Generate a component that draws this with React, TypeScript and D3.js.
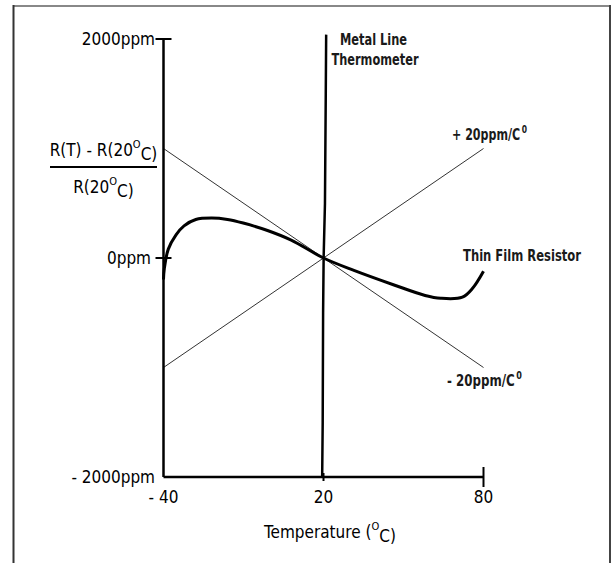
import * as d3 from "d3";

// temperature (°C) / deviation (ppm)
const thinFilm: [number, number][] = [
  [-40, -196], [-39.7, -98], [-38.2, 81], [-35.3, 212], [-32.3, 294],
  [-27.9, 352], [-21.9, 365], [-16.0, 352], [-10.1, 319], [-1.0, 251],
  [7.9, 163], [20, 0], [31.4, -113], [46.2, -244], [58.1, -342],
  [64.0, -368], [72.1, -358], [75.9, -277], [80, -121],
];
const metalLine: [number, number][] = [
  [21.0, 2040], [20.85, 1500], [20.55, 500], [20.05, 0],
  [19.85, -500], [19.7, -1500], [19.5, -2010],
];
const plusLine: [number, number][] = [[-40, -1000], [80, 1000]];
const minusLine: [number, number][] = [[-40, 1000], [80, -1000]];

const xTicks = [-40, 20, 80];
const xTickLabels = ["- 40", "20", "80"];
const yTicks = [2000, 0, -2000];
const yTickLabels = ["2000ppm", "0ppm", "- 2000ppm"];

const W = 615;
const H = 563;
const cond = "'DejaVu Sans Condensed', 'Liberation Sans', sans-serif";

function App() {
  const x = d3.scaleLinear().domain([-40, 80]).range([163.5, 483.5]);
  const y = d3.scaleLinear().domain([-2000, 2000]).range([477, 39]);

  const straight = d3.line<[number, number]>()
    .x(d => x(d[0]))
    .y(d => y(d[1]));
  const smooth = d3.line<[number, number]>()
    .x(d => x(d[0]))
    .y(d => y(d[1]))
    .curve(d3.curveCatmullRom.alpha(0.5));

  return (
    <svg width={W} height={H} style={{position: "absolute", left: 0, top: 0, background: "#fff"}}>
      {/* frame */}
      <line x1={13.5} y1={6} x2={610} y2={6} stroke="#888" strokeWidth={2} />
      <line x1={13.5} y1={5} x2={13.5} y2={H} stroke="#333" strokeWidth={2} />
      <line x1={610} y1={5} x2={610} y2={H} stroke="#444" strokeWidth={2} />

      {/* slope lines */}
      <path d={straight(plusLine) ?? ""} fill="none" stroke="#333" strokeWidth={1} />
      <path d={straight(minusLine) ?? ""} fill="none" stroke="#333" strokeWidth={1} />

      {/* axes */}
      <line x1={x(-40)} y1={y(2000)} x2={x(-40)} y2={y(-2000)} stroke="#000" strokeWidth={2.5} />
      <line x1={x(-40)} y1={y(-2000)} x2={x(80)} y2={y(-2000)} stroke="#000" strokeWidth={2.5} />
      {yTicks.slice(0, 2).map(t => (
        <line key={t} x1={x(-40) - 8} x2={x(-40) + 8} y1={y(t)} y2={y(t)} stroke="#000" strokeWidth={2} />
      ))}
      <line x1={x(80)} x2={x(80)} y1={y(-2000) - 10} y2={y(-2000) + 10} stroke="#000" strokeWidth={2} />
      <line x1={x(20)} x2={x(20)} y1={y(-2000) - 4} y2={y(-2000) + 4} stroke="#000" strokeWidth={2} />

      {/* metal line thermometer */}
      <path d={straight(metalLine) ?? ""} fill="none" stroke="#000" strokeWidth={2.5} />

      {/* thin film curve */}
      <path d={smooth(thinFilm) ?? ""} fill="none" stroke="#000" strokeWidth={3} strokeLinejoin="round" />

      {/* axis labels */}
      <g fontFamily={cond} fontSize={17} fill="#000">
        {yTicks.map((t, i) => (
          <text key={t} x={i === 1 ? 151 : 155} y={y(t)} dy="0.36em" textAnchor="end">
            {yTickLabels[i]}
          </text>
        ))}
        {xTicks.map((t, i) => (
          <text key={t} x={x(t)} y={497} dy="0.36em" textAnchor="middle">
            {xTickLabels[i]}
          </text>
        ))}
        <text x={330} y={532} dy="0.36em" textAnchor="middle">
          Temperature (<tspan fontSize={11} dy="-0.7em">O</tspan><tspan dy="0.7em">C)</tspan>
        </text>

        {/* y axis fraction label */}
        <text x={103.5} y={150} dy="0.36em" textAnchor="middle">
          R(T) - R(20<tspan fontSize={11} dy="-0.7em">O</tspan><tspan dy="0.7em">C)</tspan>
        </text>
        <line x1={50} x2={157} y1={167} y2={167} stroke="#000" strokeWidth={2} />
        <text x={103.5} y={187} dy="0.36em" textAnchor="middle">
          R(20<tspan fontSize={11} dy="-0.7em">O</tspan><tspan dy="0.7em">C)</tspan>
        </text>
      </g>

      {/* series labels */}
      <g fontFamily={cond} fontWeight="bold" fontSize={16} fill="#1a1a1a">
        <text x={340} y={39} dy="0.36em" textLength={67} lengthAdjust="spacingAndGlyphs">Metal Line</text>
        <text x={331.5} y={59} dy="0.36em" textLength={87} lengthAdjust="spacingAndGlyphs">Thermometer</text>
        <text x={463} y={255} dy="0.36em" textLength={118} lengthAdjust="spacingAndGlyphs">Thin Film Resistor</text>
        <text x={452} y={134} dy="0.36em" textLength={75} lengthAdjust="spacingAndGlyphs">
          + 20ppm/C<tspan fontSize={11} dx={2} dy="-0.6em">0</tspan>
        </text>
        <text x={447} y={380} dy="0.36em" textLength={75} lengthAdjust="spacingAndGlyphs">
          - 20ppm/C<tspan fontSize={11} dx={2} dy="-0.6em">0</tspan>
        </text>
      </g>
    </svg>
  );
}

export default App;
